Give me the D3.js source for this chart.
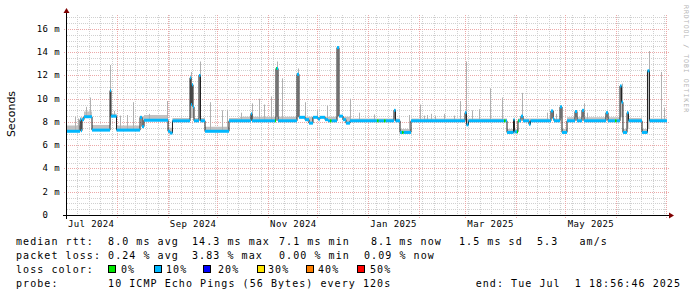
<!DOCTYPE html>
<html>
<head>
<meta charset="utf-8">
<script src="https://cdn.jsdelivr.net/npm/d3@7"></script>
<style>
  body { margin: 0; background: #fff; }
  text { font-family: "DejaVu Sans Mono", monospace; fill: #000; }
</style>
</head>
<body>
<script>
//SVG dimension variables
var w = 697, h = 297;
var plotLeft = 67, plotRight = 667, plotTop = 15, plotBottom = 215;

//median rtt in ms, one entry per step change
var medianRtt = [
    ["2024-07-01 18:56", 7.2], ["2024-07-09 17:00", 8.2], ["2024-07-10 07:00", 7.25], ["2024-07-10 22:00", 8.2],
    ["2024-07-12 03:00", 8.45], ["2024-07-17 00:00", 7.3], ["2024-07-27 23:00", 10.7], ["2024-07-28 13:00", 8.5],
    ["2024-07-31 22:00", 7.3], ["2024-08-15 05:00", 8.4], ["2024-08-16 10:00", 7.6], ["2024-08-17 15:00", 8.15],
    ["2024-09-01 06:00", 7.2], ["2024-09-02 11:00", 7.05], ["2024-09-03 23:00", 8.1], ["2024-09-14 15:00", 11.8],
    ["2024-09-15 05:00", 9.5], ["2024-09-15 20:00", 11.2], ["2024-09-16 11:00", 9.3], ["2024-09-17 01:00", 8.1],
    ["2024-09-20 02:00", 12.0], ["2024-09-21 00:00", 8.1], ["2024-09-23 18:00", 7.2], ["2024-10-08 08:00", 8.1],
    ["2024-10-21 17:00", 8.7], ["2024-10-22 08:00", 8.1], ["2024-11-05 22:00", 12.6], ["2024-11-07 04:00", 8.1],
    ["2024-11-18 17:00", 12.1], ["2024-11-19 22:00", 8.4], ["2024-11-23 14:00", 8.2], ["2024-11-26 00:00", 7.9],
    ["2024-11-28 10:00", 8.4], ["2024-12-01 11:00", 8.25], ["2024-12-02 17:00", 8.4], ["2024-12-05 18:00", 8.2],
    ["2024-12-07 13:00", 8.1], ["2024-12-13 01:00", 14.4], ["2024-12-14 06:00", 8.5], ["2024-12-16 16:00", 8.2],
    ["2024-12-18 12:00", 7.9], ["2024-12-20 23:00", 8.1], ["2025-01-16 17:00", 9.0], ["2025-01-17 15:00", 8.1],
    ["2025-01-20 09:00", 7.1], ["2025-01-27 01:00", 8.1], ["2025-02-28 22:00", 8.8], ["2025-03-01 19:00", 7.75],
    ["2025-03-03 01:00", 8.1], ["2025-03-26 11:00", 7.1], ["2025-03-30 10:00", 8.2], ["2025-03-31 00:00", 7.15],
    ["2025-04-02 03:00", 8.1], ["2025-04-03 23:00", 8.5], ["2025-04-05 05:00", 8.1], ["2025-04-08 20:00", 7.8],
    ["2025-04-09 18:00", 8.1], ["2025-04-22 05:00", 8.95], ["2025-04-23 11:00", 8.3], ["2025-04-24 01:00", 8.1],
    ["2025-04-27 17:00", 9.3], ["2025-04-28 22:00", 7.1], ["2025-05-01 23:00", 8.1], ["2025-05-06 20:00", 8.9],
    ["2025-05-08 01:00", 8.1], ["2025-05-11 02:00", 9.0], ["2025-05-12 07:00", 8.1], ["2025-05-25 16:00", 8.8],
    ["2025-05-26 22:00", 8.1], ["2025-06-03 05:00", 11.1], ["2025-06-04 03:00", 9.7], ["2025-06-05 00:00", 7.1],
    ["2025-06-07 11:00", 8.8], ["2025-06-08 09:00", 8.1], ["2025-06-16 14:00", 7.1], ["2025-06-19 22:00", 12.4],
    ["2025-06-21 03:00", 8.1]
];

//upper edge of the ping "smoke" band in ms
var smokeTop = [
    ["2024-07-01 18:56", 7.7], ["2024-07-09 17:00", 8.4], ["2024-07-12 03:00", 8.9], ["2024-07-17 00:00", 7.75],
    ["2024-07-28 13:00", 8.7], ["2024-07-31 22:00", 7.7], ["2024-08-15 05:00", 8.5], ["2024-08-17 15:00", 8.6],
    ["2024-09-01 06:00", 7.5], ["2024-09-03 23:00", 8.35], ["2024-09-23 18:00", 7.6], ["2024-10-08 08:00", 8.35],
    ["2024-10-15 00:00", 8.45], ["2024-12-20 23:00", 8.3], ["2025-01-20 09:00", 7.4], ["2025-01-27 01:00", 8.3],
    ["2025-03-26 11:00", 7.4], ["2025-04-02 03:00", 8.3], ["2025-04-28 22:00", 7.4], ["2025-05-01 23:00", 8.4],
    ["2025-06-05 00:00", 7.4], ["2025-06-08 09:00", 8.35], ["2025-06-16 14:00", 7.4], ["2025-06-21 03:00", 8.3]
];

//single slow pings (top of the thin smoke spikes), ms
var smokeSpikes = [
    ["2024-07-06 11:00", 8.45], ["2024-07-08 12:00", 8.3], ["2024-07-13 08:00", 9.3], ["2024-07-15 23:00", 10.1],
    ["2024-07-28 03:00", 12.9], ["2024-07-30 05:00", 8.95], ["2024-08-03 05:00", 8.55], ["2024-08-07 07:00", 8.6],
    ["2024-08-10 18:00", 9.7], ["2024-08-20 16:00", 8.7], ["2024-08-31 15:00", 9.8], ["2024-09-15 05:00", 12.3],
    ["2024-09-20 21:00", 13.2], ["2024-09-26 23:00", 9.7], ["2024-10-04 02:00", 9.0], ["2024-10-07 03:00", 9.0],
    ["2024-10-15 15:00", 8.8], ["2024-10-22 08:00", 9.6], ["2024-10-26 10:00", 10.0], ["2024-10-29 11:00", 9.5],
    ["2024-11-03 02:00", 10.2], ["2024-11-06 17:00", 13.2], ["2024-11-09 14:00", 11.75], ["2024-11-19 07:00", 12.6],
    ["2024-11-23 14:00", 9.7], ["2024-11-30 21:00", 9.0], ["2024-12-06 23:00", 9.4], ["2024-12-21 03:00", 10.0],
    ["2024-12-26 06:00", 8.8], ["2025-01-04 09:00", 8.65], ["2025-01-17 12:00", 9.1], ["2025-01-25 16:00", 8.6],
    ["2025-02-01 17:00", 9.5], ["2025-02-03 18:00", 8.55], ["2025-02-05 19:00", 8.6], ["2025-02-08 10:00", 8.7],
    ["2025-02-10 20:00", 8.55], ["2025-02-15 23:00", 8.7], ["2025-02-22 00:00", 8.55], ["2025-02-26 01:00", 9.8],
    ["2025-03-01 12:00", 13.2], ["2025-03-05 04:00", 9.0], ["2025-03-09 14:00", 9.1], ["2025-03-15 22:00", 10.9],
    ["2025-03-23 10:00", 10.1], ["2025-04-04 14:00", 10.5], ["2025-04-19 18:00", 8.8], ["2025-04-23 11:00", 9.0],
    ["2025-04-25 06:00", 8.7], ["2025-05-12 02:00", 9.6], ["2025-05-14 03:00", 8.8], ["2025-06-04 10:00", 11.3],
    ["2025-06-20 15:00", 14.1], ["2025-06-28 07:00", 12.3], ["2025-06-29 18:00", 9.2]
];

//packet loss in %, one entry per change
var lossPct = [
    ["2024-07-01 18:56", 2], ["2024-11-05 08:00", 0], ["2024-11-06 08:00", 2], ["2024-12-08 18:00", 0],
    ["2024-12-09 18:00", 2], ["2025-01-06 09:00", 0], ["2025-01-07 09:00", 2], ["2025-01-10 15:00", 0],
    ["2025-01-11 15:00", 2], ["2025-01-21 14:00", 0], ["2025-01-22 14:00", 2], ["2025-03-24 15:00", 0],
    ["2025-03-25 15:00", 2], ["2025-04-01 13:00", 0], ["2025-04-02 13:00", 2], ["2025-05-31 04:00", 0],
    ["2025-06-01 04:00", 2]
];

var lossLabels = ["0%", "10%", "20%", "30%", "40%", "50%"];
var lossColors = ["#00e600", "#00b8ff", "#0000ff", "#ffe600", "#ff8000", "#ff0000"];

var yTicks = [0, 2, 4, 6, 8, 10, 12, 14, 16];
var yTickLabels = ["0  ", "2 m", "4 m", "6 m", "8 m", "10 m", "12 m", "14 m", "16 m"];

var rttStats = ["median rtt:  8.0 ms avg", "14.3 ms max", "7.1 ms min", "8.1 ms now", "1.5 ms sd", "5.3   am/s"];
var lossStats = ["packet loss: 0.24 % avg", "3.83 % max", "0.00 % min", "0.09 % now"];
var probeText = "probe:       10 ICMP Echo Pings (56 Bytes) every 120s";
var endText = "end: Tue Jul  1 18:56:46 2025";

window.onload = function(){

    var parse = d3.timeParse("%Y-%m-%d %H:%M");
    var start = new Date(2024, 6, 1, 18, 56, 46), end = new Date(2025, 6, 1, 18, 56, 46);
    [medianRtt, smokeTop, smokeSpikes, lossPct].forEach(function(arr){
        arr.forEach(function(d){ d[0] = parse(d[0]); });
    });
    medianRtt[0][0] = start; smokeTop[0][0] = start; lossPct[0][0] = start;

    var x = d3.scaleTime().domain([start, end]).range([plotLeft, plotRight]);
    var y = d3.scaleLinear().domain([0, 17.2]).range([plotBottom, plotTop]);

    var bis = d3.bisector(function(d){ return d[0]; }).right;
    function stepAt(arr, t){ return arr[Math.max(bis(arr, t) - 1, 0)][1]; }
    function lossColor(p){ return p <= 0 ? lossColors[0] : lossColors[Math.min(5, Math.ceil(p / 10))]; }
    function joinTimes(a, b){
        var ts = a.map(function(d){ return +d[0]; }).concat(b.map(function(d){ return +d[0]; }));
        return Array.from(new Set(ts)).sort(d3.ascending).map(function(t){ return new Date(t); });
    }
    function px(v){ return Math.round(v) + 0.5; }

    var svg = d3.select("body").append("svg")
        .attr("width", w).attr("height", h)
        .style("display", "block").style("background", "#fff");

    //grid: weeks / half ms in grey, months / 2 ms in pink
    var months = d3.timeMonth.range(start, end);
    var weeks = d3.timeMonday.range(start, end).filter(function(d){ return d.getDate() !== 1; });
    var minorY = d3.range(0.5, 17.2, 0.5).filter(function(d){ return d % 2 !== 0; });
    var grid = svg.append("g").attr("shape-rendering", "crispEdges");
    grid.selectAll(".vmin").data(weeks).enter().append("line")
        .attr("x1", function(d){ return px(x(d)); }).attr("x2", function(d){ return px(x(d)); })
        .attr("y1", plotTop).attr("y2", plotBottom)
        .attr("stroke", "#d0d0d0").attr("stroke-dasharray", "1,1");
    grid.selectAll(".hmin").data(minorY).enter().append("line")
        .attr("x1", plotLeft).attr("x2", plotRight)
        .attr("y1", function(d){ return px(y(d)); }).attr("y2", function(d){ return px(y(d)); })
        .attr("stroke", "#d0d0d0").attr("stroke-dasharray", "1,1");
    grid.selectAll(".vmaj").data(months).enter().append("line")
        .attr("x1", function(d){ return px(x(d)); }).attr("x2", function(d){ return px(x(d)); })
        .attr("y1", plotTop).attr("y2", plotBottom + 3)
        .attr("stroke", "#eca8a8").attr("stroke-dasharray", "1,1");
    grid.selectAll(".hmaj").data(yTicks.slice(1)).enter().append("line")
        .attr("x1", plotLeft - 3).attr("x2", plotRight + 2)
        .attr("y1", function(d){ return px(y(d)); }).attr("y2", function(d){ return px(y(d)); })
        .attr("stroke", "#eca8a8").attr("stroke-dasharray", "1,1");

    var plot = svg.append("g");

    //smoke band
    var smokePts = joinTimes(medianRtt, smokeTop).map(function(t){
        return [t, stepAt(medianRtt, t), stepAt(smokeTop, t)];
    });
    smokePts.push([end, smokePts[smokePts.length - 1][1], smokePts[smokePts.length - 1][2]]);
    plot.append("path").datum(smokePts)
        .attr("d", d3.area().curve(d3.curveStepAfter)
            .x(function(d){ return x(d[0]); })
            .y0(function(d){ return y(d[1]); })
            .y1(function(d){ return y(d[2]); }))
        .attr("fill", "#c2c2c2");

    //smoke spikes
    plot.selectAll(".spike").data(smokeSpikes).enter().append("line")
        .attr("x1", function(d){ return px(x(d[0])); })
        .attr("x2", function(d){ return px(x(d[0])); })
        .attr("y1", function(d){ return y(stepAt(medianRtt, d[0])); })
        .attr("y2", function(d){ return y(d[1]); })
        .attr("stroke", "#b0b0b0").attr("stroke-width", 1);

    //median line
    var medPts = medianRtt.concat([[end, medianRtt[medianRtt.length - 1][1]]]);
    plot.append("path").datum(medPts)
        .attr("d", d3.line().curve(d3.curveStepAfter)
            .x(function(d){ return x(d[0]); })
            .y(function(d){ return y(d[1]); }))
        .attr("fill", "none").attr("stroke", "#202020").attr("stroke-width", 1);

    //median coloured by loss
    var bandTimes = joinTimes(medianRtt, lossPct);
    bandTimes.push(end);
    var bands = d3.pairs(bandTimes).map(function(p){
        return { t0: p[0], t1: p[1], v: stepAt(medianRtt, p[0]), loss: stepAt(lossPct, p[0]) };
    });
    plot.selectAll(".band").data(bands).enter().append("rect")
        .attr("x", function(d){ return x(d.t0); })
        .attr("width", function(d){ return Math.max(1, x(d.t1) - x(d.t0)); })
        .attr("y", function(d){ return y(d.v) - 1.5; })
        .attr("height", 3)
        .attr("fill", function(d){ return lossColor(d.loss); });

    //axes
    var axes = svg.append("g").attr("shape-rendering", "crispEdges");
    axes.append("line").attr("x1", plotLeft - 4).attr("x2", plotRight + 2)
        .attr("y1", plotBottom + 0.5).attr("y2", plotBottom + 0.5).attr("stroke", "#000");
    axes.append("line").attr("x1", plotLeft - 0.5).attr("x2", plotLeft - 0.5)
        .attr("y1", plotBottom + 4).attr("y2", 13).attr("stroke", "#000");
    svg.append("path").attr("d", "M669,212.5L674,215.5L669,218.5Z").attr("fill", "#7f0000");
    svg.append("path").attr("d", "M63.5,13L66.5,8L69.5,13Z").attr("fill", "#7f0000");

    //y labels
    svg.selectAll(".ylab").data(yTicks).enter().append("text")
        .attr("x", 60).attr("y", function(d){ return y(d) + 3; })
        .attr("text-anchor", "end").attr("xml:space", "preserve")
        .style("font-size", "9px").style("letter-spacing", "0.4px")
        .text(function(d, i){ return yTickLabels[i]; });

    //x labels, every second month centred half a month after its start
    var labelMonths = d3.timeMonth.every(2).range(new Date(2024, 6, 1), end)
        .filter(function(d){ return x(d3.timeHour.offset(d, 372)) < plotRight; });
    svg.selectAll(".xlab").data(labelMonths).enter().append("text")
        .attr("x", function(d){ return x(d3.timeHour.offset(d, 372)); })
        .attr("y", 227)
        .attr("text-anchor", "middle")
        .style("font-size", "9px").style("letter-spacing", "0.4px")
        .text(d3.timeFormat("%b %Y"));

    svg.append("text").attr("transform", "translate(15,114) rotate(-90)")
        .attr("text-anchor", "middle")
        .style("font-family", "'DejaVu Sans', sans-serif").style("font-size", "11px")
        .text("Seconds");

    svg.append("text").attr("transform", "translate(684,5) rotate(90)")
        .style("font-size", "6.5px").style("letter-spacing", "1px").style("fill", "#b4b4b4")
        .text("RRDTOOL / TOBI OETIKER");

    //legend
    var legend = svg.append("g").style("font-size", "10px").style("letter-spacing", "1.06px");
    var rttX = [16, 192, 279, 371, 459, 537];
    var lossX = [16, 192, 279, 364];
    legend.selectAll(".rtt").data(rttStats).enter().append("text")
        .attr("x", function(d, i){ return rttX[i]; }).attr("y", 245)
        .attr("xml:space", "preserve").text(function(d){ return d; });
    legend.selectAll(".loss").data(lossStats).enter().append("text")
        .attr("x", function(d, i){ return lossX[i]; }).attr("y", 259)
        .attr("xml:space", "preserve").text(function(d){ return d; });
    legend.append("text").attr("x", 16).attr("y", 273).text("loss color:");
    var boxX = [108, 154, 203, 257, 306, 357];
    var labX = [121, 166, 218, 268, 318, 370];
    legend.selectAll(".sw").data(lossColors).enter().append("rect")
        .attr("x", function(d, i){ return boxX[i] + 0.5; }).attr("y", 265.5)
        .attr("width", 7).attr("height", 7)
        .attr("fill", function(d){ return d; }).attr("stroke", "#000").attr("stroke-width", 1);
    legend.selectAll(".swl").data(lossLabels).enter().append("text")
        .attr("x", function(d, i){ return labX[i]; }).attr("y", 273)
        .text(function(d){ return d; });
    legend.append("text").attr("x", 16).attr("y", 287).attr("xml:space", "preserve").text(probeText);
    legend.append("text").attr("x", 681).attr("y", 287).attr("text-anchor", "end")
        .attr("xml:space", "preserve").text(endText);
};
</script>
</body>
</html>
